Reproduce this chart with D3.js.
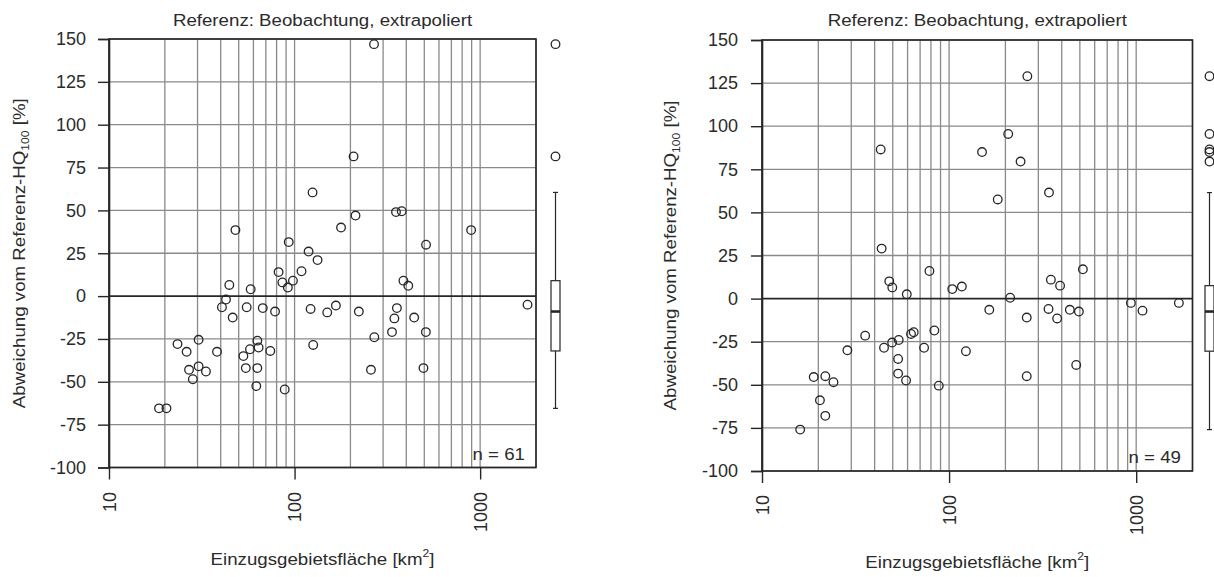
<!DOCTYPE html>
<html>
<head>
<meta charset="utf-8">
<script src="https://cdn.jsdelivr.net/npm/d3@7"></script>
<style>
  body { margin: 0; background: #fff; }
  svg text { font-family: "Liberation Sans", Arial, sans-serif; fill: #2b2b2b; }
</style>
</head>
<body>
<div id="chart"></div>
<script>
const titleText = "Referenz: Beobachtung, extrapoliert";
const yTicks = [150, 125, 100, 75, 50, 25, 0, -25, -50, -75, -100];
const xTicks = [10, 100, 1000];
const xDomain = [10, 2000];
const yDomain = [-100, 150];

// left panel: catchment area [km2] and deviation [%]
const leftArea = [125, 48, 93, 119, 133, 82, 109, 86, 98, 92, 44.5, 58, 42.7, 40.6, 46.4, 55.2, 67.4, 78.5, 122, 150,
  30.4, 23.4, 26.2, 38.2, 63, 57.5, 64, 53, 74, 126, 27, 30.4, 33.3, 28.3, 54.6, 63, 62.2, 88.5, 18.6, 20.4,
  268, 208, 213, 178, 352, 378, 894, 511, 386, 410, 167, 222, 356, 345, 441, 335, 510, 269, 258, 495, 1800];
const leftDev = [60.5, 38.5, 31.5, 26, 21, 14, 14.5, 8, 9, 5, 6.5, 4, -2, -6.5, -12.5, -6.5, -7, -9, -7.5, -9.5,
  -25.5, -28, -32.5, -32.5, -26, -31, -30, -35, -32, -28.5, -43, -41, -44, -48.5, -42, -42, -52.5, -54.5, -65.5, -65.5,
  147, 81.5, 47, 40, 49, 49.5, 38.5, 30, 9, 6, -5.5, -9, -7, -13, -12.5, -21, -21, -24, -43, -42, -5];

// right panel
const rightArea = [43.1, 43.6, 78.5, 47.9, 49.7, 59.4, 104, 117, 35.6, 28.6, 44.9, 49.6, 53.8, 62.6, 64.7, 83.4, 73.5,
  123, 53.4, 53.4, 58.9, 88.1, 18.9, 21.8, 24.1, 20.4, 21.8, 16,
  262, 207, 150, 241, 182, 342, 519, 350, 392, 212, 164, 260, 340, 378, 442, 494, 937, 1081, 1691, 260, 478];
const rightDev = [86.5, 29, 16, 10, 6.5, 2.5, 5.5, 7, -21.5, -30, -28.5, -25.5, -24, -20.5, -19.5, -18.5, -28.5,
  -30.5, -35, -43.5, -47.5, -50.5, -45.5, -45, -48.5, -59, -68, -76,
  129, 95.5, 85, 79.5, 57.5, 61.5, 17, 11, 7.5, 0.5, -6.5, -11, -6, -11.5, -6.5, -7.5, -2.5, -7, -2.5, -45, -38.5];

const W = 1214, H = 577;
const svg = d3.select("#chart").append("svg").attr("width", W).attr("height", H);

const ink = "#262626";
const gridCol = "#8a8a8a";
const stretch = 1.1;

function stretchedText(g, x, y, angle) {
  return g.append("text")
    .attr("transform", `translate(${x},${y}) rotate(${angle}) scale(${stretch},1)`)
    .attr("text-anchor", "middle");
}

function drawPanel(cfg, area, dev) {
  const data = area.map((a, i) => ({ a: a, d: dev[i] }));
  const x = d3.scaleLog().domain(xDomain).range([cfg.left, cfg.right]);
  const y = d3.scaleLinear().domain(yDomain).range([cfg.bottom, cfg.top]);
  const g = svg.append("g");

  // grid first so it sits under the points
  g.selectAll(".vgrid")
    .data(x.ticks())
    .enter().append("line")
      .attr("x1", d => x(d)).attr("x2", d => x(d))
      .attr("y1", cfg.top).attr("y2", cfg.bottom)
      .attr("stroke", gridCol).attr("stroke-width", 1.3);
  g.selectAll(".hgrid")
    .data(yTicks)
    .enter().append("line")
      .attr("x1", cfg.left).attr("x2", cfg.right)
      .attr("y1", d => y(d)).attr("y2", d => y(d))
      .attr("stroke", d => d === 0 ? ink : gridCol)
      .attr("stroke-width", d => d === 0 ? 1.8 : 1.3);

  g.selectAll(".dot")
    .data(data)
    .enter().append("circle")
      .attr("cx", d => x(d.a))
      .attr("cy", d => y(d.d))
      .attr("r", 4.3)
      .attr("fill", "none")
      .attr("stroke", ink)
      .attr("stroke-width", 1.3);

  g.append("rect")
    .attr("x", cfg.left).attr("y", cfg.top)
    .attr("width", cfg.right - cfg.left).attr("height", cfg.bottom - cfg.top)
    .attr("fill", "none").attr("stroke", ink).attr("stroke-width", 1.6);

  // y axis (plain hyphen for negatives, as in the original)
  const ya = g.append("g")
    .attr("transform", `translate(${cfg.left},0)`)
    .call(d3.axisLeft(y).tickValues(yTicks).tickSize(11).tickPadding(cfg.ypad).tickFormat(d => String(d)));
  ya.select(".domain").attr("stroke", ink).attr("stroke-width", 1.6);
  ya.selectAll(".tick line").attr("stroke", ink).attr("stroke-width", 1.4);
  ya.selectAll(".tick text")
    .attr("font-size", 18)
    .attr("fill", ink)
    .attr("font-family", "Liberation Sans, Arial, sans-serif");

  // x axis
  const xa = g.append("g")
    .attr("transform", `translate(0,${cfg.bottom})`)
    .call(d3.axisBottom(x).tickValues(xTicks).tickSize(12).tickFormat(d => String(d)));
  xa.select(".domain").remove();
  xa.selectAll(".tick line").attr("stroke", ink).attr("stroke-width", 1.4);
  xa.selectAll(".tick text")
    .attr("font-size", 18)
    .attr("fill", ink)
    .attr("font-family", "Liberation Sans, Arial, sans-serif")
    .attr("transform", "rotate(-90)")
    .attr("text-anchor", "end")
    .attr("x", -(cfg.xlab - cfg.bottom))
    .attr("y", 0)
    .attr("dy", "0.35em");

  const cx = (cfg.left + cfg.right) / 2;

  stretchedText(g, cx, cfg.titleY, 0)
    .attr("font-size", 17)
    .text(titleText);

  const yt = stretchedText(g, cfg.ytitleX, (cfg.top + cfg.bottom) / 2, -90)
    .attr("font-size", 17);
  yt.append("tspan").text("Abweichung vom Referenz-HQ");
  yt.append("tspan").attr("font-size", 11).attr("dy", 4).text("100");
  yt.append("tspan").attr("dy", -4).text(" [%]");

  const xt = stretchedText(g, cx, cfg.xtitleY, 0)
    .attr("font-size", 17);
  xt.append("tspan").text("Einzugsgebietsfläche [km");
  xt.append("tspan").attr("font-size", 11).attr("dy", -8).text("2");
  xt.append("tspan").attr("dy", 8).text("]");

  g.append("text")
    .attr("transform", `translate(${cfg.nX},${cfg.nY}) scale(${stretch},1)`)
    .attr("text-anchor", "end")
    .attr("font-size", 17)
    .text("n = " + data.length);

  // boxplot of the deviations
  const vals = dev.slice().sort(d3.ascending);
  const q1 = d3.quantile(vals, 0.25);
  const med = d3.quantile(vals, 0.5);
  const q3 = d3.quantile(vals, 0.75);
  const iqr = q3 - q1;
  const hiW = d3.max(vals.filter(v => v <= q3 + 1.5 * iqr));
  const loW = d3.min(vals.filter(v => v >= q1 - 1.5 * iqr));
  const outl = vals.filter(v => v > hiW || v < loW);
  const bx = cfg.boxX, bw = 4.5;

  const b = g.append("g").attr("stroke", ink).attr("fill", "none");
  b.append("line").attr("x1", bx).attr("x2", bx).attr("y1", y(q3)).attr("y2", y(hiW)).attr("stroke-width", 1.2);
  b.append("line").attr("x1", bx).attr("x2", bx).attr("y1", y(q1)).attr("y2", y(loW)).attr("stroke-width", 1.2);
  b.append("line").attr("x1", bx - 2.5).attr("x2", bx + 2.5).attr("y1", y(hiW)).attr("y2", y(hiW)).attr("stroke-width", 1.2);
  b.append("line").attr("x1", bx - 2.5).attr("x2", bx + 2.5).attr("y1", y(loW)).attr("y2", y(loW)).attr("stroke-width", 1.2);
  b.append("rect")
    .attr("x", bx - bw).attr("y", y(q3))
    .attr("width", 2 * bw).attr("height", y(q1) - y(q3))
    .attr("fill", "#fff").attr("stroke-width", 1.2);
  b.append("line").attr("x1", bx - bw).attr("x2", bx + bw).attr("y1", y(med)).attr("y2", y(med)).attr("stroke-width", 2.6);
  b.selectAll("circle")
    .data(outl)
    .enter().append("circle")
      .attr("cx", bx)
      .attr("cy", d => y(d))
      .attr("r", 4.3)
      .attr("stroke-width", 1.3);
}

drawPanel({ left: 109, right: 536, top: 39, bottom: 467.5, ypad: 12, xlab: 492, titleY: 26,
            ytitleX: 25, xtitleY: 565, nX: 525, nY: 460, boxX: 555.5 }, leftArea, leftDev);
drawPanel({ left: 762, right: 1192.5, top: 40, bottom: 471, ypad: 13, xlab: 495, titleY: 26,
            ytitleX: 676, xtitleY: 568, nX: 1181, nY: 463, boxX: 1209.5 }, rightArea, rightDev);
</script>
</body>
</html>
